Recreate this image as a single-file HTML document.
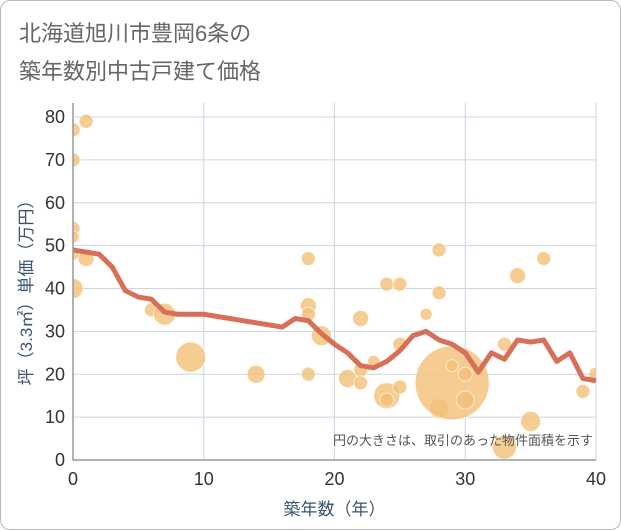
<!DOCTYPE html>
<html><head><meta charset="utf-8"><style>
body{margin:0;background:#fff;font-family:"Liberation Sans","Noto Sans CJK JP",sans-serif;}
#wrap{position:relative;width:619px;height:528px;border:1px solid #bbb;border-radius:10px;overflow:hidden;}
</style></head><body>
<div id="wrap">
<svg id="c" width="619" height="528"></svg>
</div>
<script>
const years=[0,1,2,3,4,5,6,7,8,9,10,11,12,13,14,15,16,17,18,19,20,21,22,23,24,25,26,27,28,29,30,31,32,33,34,35,36,37,38,39,40];
const avgPrice=[49,48.5,48,45,39.5,38,37.5,34.5,34,34,34,33.5,33,32.5,32,31.5,31,33,32.5,29.5,27,25,22,21.5,23,25.5,29,30,28,27,25,20.5,25,23.5,28,27.5,28,23,25,19,18.5];
const bubbleAge=[0,1,0,0,0,0,1,0,6,7,9,14,18,18,18,19,18,21,22,22,22,23,24,25,24,24,25,25,27,28,28,28,29,29,30,30,33,33,34,35,36,39,40];
const bubblePrice=[77,79,70,54,52,48,47,40,35,34,24,20,47,36,34,29,20,19,33,21,18,23,41,41,15,14,27,17,34,49,39,12,18,22,20,14,27,3,43,9,47,16,20];
const bubbleArea=[7,7,7,7,6,6,8,10,7,11,15,9,7,8,7,10,7,9,8,7,7,6,7,7,13,7,7,7,6,7,7,10,37,6,7,9,7,12,8,10,7,7,7];
const xTicks=[0,10,20,30,40];
const yTicks=[0,10,20,30,40,50,60,70,80];
const NS="http://www.w3.org/2000/svg";
const svg=document.getElementById('c');
const X0=72,X1=595,Y0=459,YT=116;
const sx=v=>X0+(X1-X0)*v/40;
const sy=v=>Y0-(Y0-YT)*v/80;
function mk(t,a,p){const e=document.createElementNS(NS,t);for(const k in a)e.setAttribute(k,a[k]);(p||svg).appendChild(e);return e;}
const defs=mk('defs',{});
const cp=mk('clipPath',{id:'plot'},defs);
mk('rect',{x:X0,y:YT-14,width:X1-X0,height:Y0-YT+14},cp);
const t1=mk('text',{x:18,y:40,'font-size':22,fill:'#666'});t1.textContent='北海道旭川市豊岡6条の';

const t2=mk('text',{x:18,y:78,'font-size':22,fill:'#666'});t2.textContent='築年数別中古戸建て価格';

yTicks.forEach(v=>{const l=mk('line',{x1:X0,x2:X1,y1:sy(v),y2:sy(v),stroke:'#c8d6e6','stroke-width':1});

const t=mk('text',{x:X0-8,y:sy(v)+6,'font-size':18,fill:'#333','text-anchor':'end'});t.textContent=v;
});
xTicks.forEach(v=>{const l=mk('line',{x1:sx(v),x2:sx(v),y1:YT-14,y2:Y0,stroke:'#c8d6e6','stroke-width':1});

const t=mk('text',{x:sx(v),y:Y0+25,'font-size':18,fill:'#333','text-anchor':'middle'});t.textContent=v;
});
const g=mk('g',{'clip-path':'url(#plot)'});
bubbleAge.forEach((a,i)=>{const c=mk('circle',{cx:sx(a),cy:sy(bubblePrice[i]),r:bubbleArea[i],fill:'#f2c078','fill-opacity':0.8,stroke:'#fff','stroke-opacity':0.6},g);
});
const pl=mk('polyline',{points:years.map((y,i)=>sx(y)+','+sy(avgPrice[i])).join(' '),fill:'none',stroke:'#d86f58','stroke-width':5,'stroke-linejoin':'round'},g);

const ax=mk('path',{d:`M${X0},${YT-14}V${Y0}H${X1}`,fill:'none',stroke:'#999','stroke-width':1.5});

const n=mk('text',{x:592,y:444,'font-size':13,fill:'#555','text-anchor':'end'});n.textContent='円の大きさは、取引のあった物件面積を示す';

const xt=mk('text',{x:sx(20),y:514,'font-size':17,fill:'#3a5570','text-anchor':'middle'});xt.textContent='築年数（年）';

const yt=mk('text',{x:0,y:0,'font-size':17,fill:'#3a5570','text-anchor':'middle',transform:`translate(31,${(YT+Y0)/2}) rotate(-90)`});yt.textContent='坪（3.3㎡）単価（万円）';

</script>
</body></html>
